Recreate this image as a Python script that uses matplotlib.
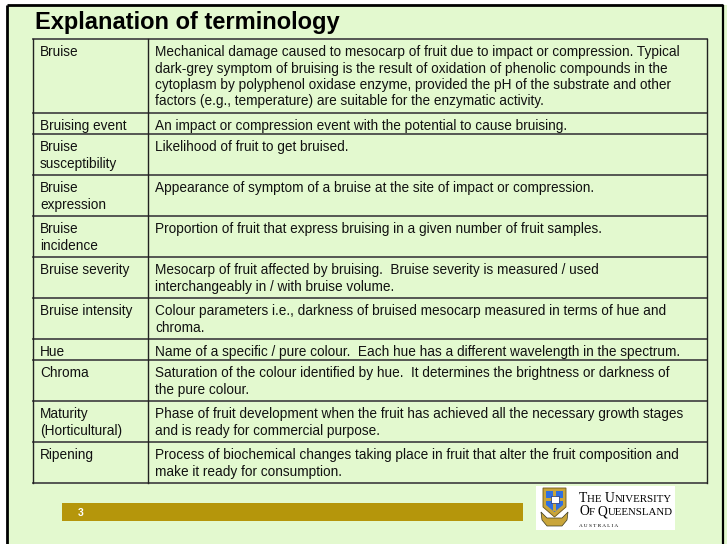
import matplotlib
matplotlib.use("Agg")
import matplotlib.pyplot as plt
from matplotlib.patches import Rectangle, Polygon

# table content
terms = [
    ["Bruise"],
    ["Bruising event"],
    ["Bruise", "susceptibility"],
    ["Bruise", "expression"],
    ["Bruise", "incidence"],
    ["Bruise severity"],
    ["Bruise intensity"],
    ["Hue"],
    ["Chroma"],
    ["Maturity", "(Horticultural)"],
    ["Ripening"],
]
definitions = [
    ["Mechanical damage caused to mesocarp of fruit due to impact or compression. Typical",
     "dark-grey symptom of bruising is the result of oxidation of phenolic compounds in the",
     "cytoplasm by polyphenol oxidase enzyme, provided the pH of the substrate and other",
     "factors (e.g., temperature) are suitable for the enzymatic activity."],
    ["An impact or compression event with the potential to cause bruising."],
    ["Likelihood of fruit to get bruised."],
    ["Appearance of symptom of a bruise at the site of impact or compression."],
    ["Proportion of fruit that express bruising in a given number of fruit samples."],
    ["Mesocarp of fruit affected by bruising.  Bruise severity is measured / used",
     "interchangeably in / with bruise volume."],
    ["Colour parameters i.e., darkness of bruised mesocarp measured in terms of hue and",
     "chroma."],
    ["Name of a specific / pure colour.  Each hue has a different wavelength in the spectrum."],
    ["Saturation of the colour identified by hue.  It determines the brightness or darkness of",
     "the pure colour."],
    ["Phase of fruit development when the fruit has achieved all the necessary growth stages",
     "and is ready for commercial purpose."],
    ["Process of biochemical changes taking place in fruit that alter the fruit composition and",
     "make it ready for consumption."],
]
title = "Explanation of terminology"
page_number = "3"

# layout (pixels)
W, H = 727, 544
row_height = {1: 21, 2: 41, 4: 74}
table_left, col_split, table_right, table_top = 33, 148, 707, 39
line_step = 16.3
first_baseline = 17.3
bg = "#e3f9cf"
gold = "#b5960b"
font = "Liberation Sans"
body_size = 9.8

fig = plt.figure(figsize=(W / 100, H / 100), dpi=100)
fig.patch.set_facecolor("white")
ax = fig.add_axes([0, 0, 1, 1])
ax.set_xlim(0, W)
ax.set_ylim(H, 0)
ax.axis("off")

# slide background + frame
ax.add_patch(Rectangle((7, 5), W - 7, H - 5, facecolor=bg, edgecolor="none", zorder=0))
ax.plot([7, 7], [H, 5], color="black", lw=2.0, solid_capstyle="butt")
ax.plot([7, 723], [5, 5], color="black", lw=2.0, solid_capstyle="butt")
ax.plot([723, 723], [5, H], color="black", lw=1.6, solid_capstyle="butt")

ax.text(35, 29, title, fontsize=17, fontweight="bold", family=font,
        ha="left", va="baseline", color="black")

# table rows
y = table_top
for term, defn in zip(terms, definitions):
    n = max(len(term), len(defn))
    h = row_height[n]
    for i, line in enumerate(term):
        ax.text(40, y + first_baseline + i * line_step, line, fontsize=body_size, family=font,
                ha="left", va="baseline", color="#111111")
    for i, line in enumerate(defn):
        ax.text(155, y + first_baseline + i * line_step, line, fontsize=body_size, family=font,
                ha="left", va="baseline", color="#111111")
    ax.plot([table_left, table_right], [y, y], color="#4a4a4a", lw=1.3, zorder=3)
    y += h
table_bottom = y
ax.plot([table_left, table_right], [table_bottom, table_bottom], color="#4a4a4a", lw=1.3, zorder=3)
for x in (table_left, col_split, table_right):
    ax.plot([x, x], [table_top, table_bottom], color="#222222", lw=1.0, zorder=3)

# footer bar
ax.add_patch(Rectangle((62, 503), 461, 18, facecolor=gold, edgecolor="none"))
ax.text(78, 513, page_number, fontsize=7.5, fontweight="bold", color="white",
        family=font, ha="left", va="center")

# logo
ax.add_patch(Rectangle((536, 486), 139, 44, facecolor="white", edgecolor="none"))
ax.add_patch(Polygon([(543, 488), (566, 488), (566, 507), (554.5, 517), (543, 507)],
                     closed=True, facecolor="#c9a53a", edgecolor="#6a5418", lw=0.6))
ax.add_patch(Polygon([(546, 491), (563, 491), (563, 505), (554.5, 512), (546, 505)],
                     closed=True, facecolor="#2f6fe0", edgecolor="none"))
ax.add_patch(Rectangle((553, 491), 3, 20, facecolor="#c9a53a", edgecolor="none"))
ax.add_patch(Rectangle((546, 498), 17, 3, facecolor="#c9a53a", edgecolor="none"))
ax.add_patch(Rectangle((550.5, 495.5), 8, 7.5, facecolor="white", edgecolor="#1a2a70", lw=0.5))
ax.add_patch(Polygon([(541, 512), (547, 518), (562, 518), (568, 512), (567, 520),
                      (562, 526), (547, 526), (542, 520)],
                     closed=True, facecolor="#c9a53a", edgecolor="#3a3a20", lw=0.5))


def small_caps(x, yc, parts, big, small):
    # draw alternating big / small capital pieces one after another
    fig.canvas.draw()
    r = fig.canvas.get_renderer()
    inv = ax.transData.inverted()
    for txt, is_big in parts:
        t = ax.text(x, yc, txt, fontsize=big if is_big else small, family="Liberation Serif",
                    ha="left", va="baseline", color="black")
        bb = t.get_window_extent(renderer=r)
        x = inv.transform((bb.x1, bb.y0))[0]
    return x


small_caps(579, 501.5, [("T", 1), ("HE ", 0), ("U", 1), ("NIVERSITY", 0)], 9.8, 7.8)
small_caps(579, 515, [("O", 1), ("F ", 0), ("Q", 1), ("UEENSLAND", 0)], 9.8, 7.8)
ax.text(579, 526, "A U S T R A L I A", fontsize=3.8, family="Liberation Serif",
        ha="left", va="center", color="black")

fig.savefig("out.png", dpi=100, facecolor=fig.get_facecolor())
